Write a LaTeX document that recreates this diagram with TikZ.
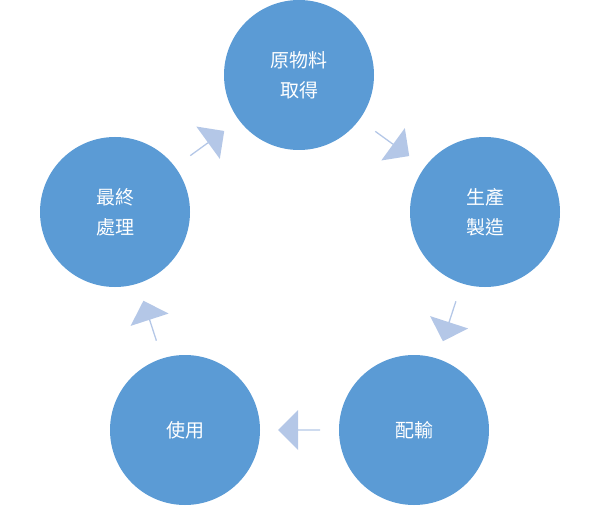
\documentclass[tikz,border=0pt]{standalone}
\usepackage{fontspec}
\newfontfamily\cjk{Noto Sans CJK TC}
\usetikzlibrary{shapes.arrows,calc}
\definecolor{cfill}{HTML}{5B9BD5}
\definecolor{afill}{HTML}{B4C7E7}
\begin{document}
\begin{tikzpicture}[x=1pt,y=1pt,
  st/.style={circle,fill=cfill,draw=none,minimum size=150pt,text=white,font=\cjk\fontsize{19}{30}\selectfont,align=center},
  ar/.style={single arrow,fill=afill,draw=none,minimum width=40pt,minimum height=42pt,single arrow head extend=6pt,inner sep=0pt}]
\useasboundingbox (0,0) rectangle (598,-527);
\node[st] (a) at (299,-75) {原物料\\取得};
\node[st] (b) at (485,-212) {生產\\製造};
\node[st] (c) at (414,-430) {配輸};
\node[st] (d) at (185,-430) {使用};
\node[st] (e) at (115,-212) {最終\\處理};
\node[ar,rotate=-36] (ab) at ($(a)!0.5!(b)$) {};
\node[ar,rotate=-108] (bc) at ($(b)!0.5!(c)$) {};
\node[ar,rotate=180] (cd) at ($(c)!0.5!(d)$) {};
\node[ar,rotate=108] (de) at ($(d)!0.5!(e)$) {};
\node[ar,rotate=36] (ea) at ($(e)!0.5!(a)$) {};
\end{tikzpicture}
\end{document}
